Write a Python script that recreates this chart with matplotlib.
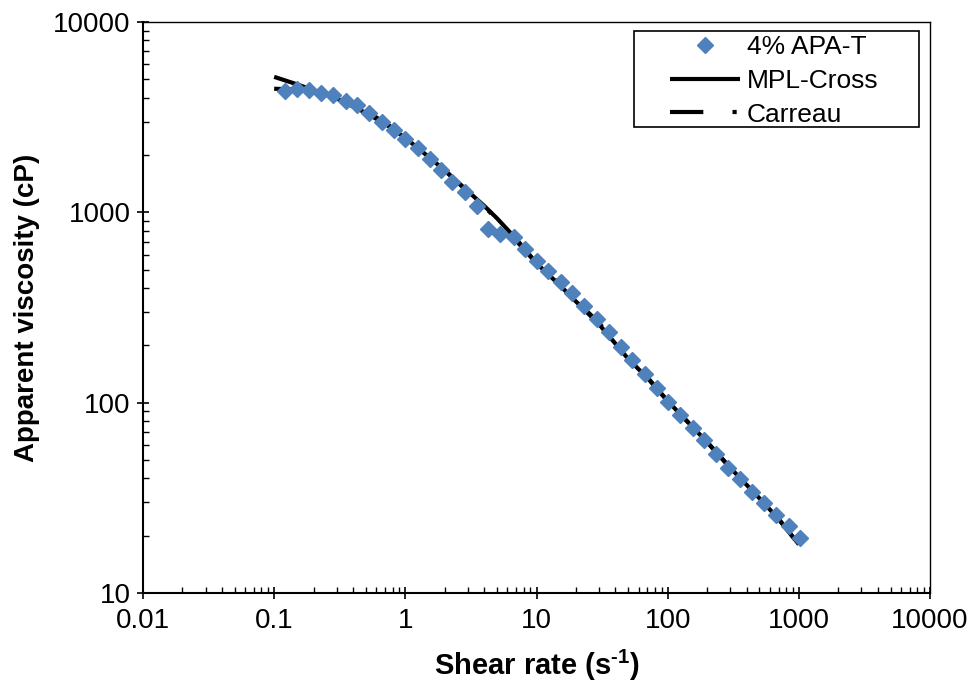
import matplotlib
matplotlib.use("Agg")
import matplotlib.pyplot as plt
from matplotlib.patches import Rectangle
from matplotlib.ticker import LogLocator, NullFormatter, FixedLocator, FixedFormatter

plt.rcParams['font.family'] = ['Liberation Sans', 'DejaVu Sans']
plt.rcParams['mathtext.fontset'] = 'custom'
plt.rcParams['mathtext.rm'] = 'Liberation Sans:bold'
plt.rcParams['mathtext.bf'] = 'Liberation Sans:bold'
plt.rcParams['mathtext.it'] = 'Liberation Sans:bold'

# Measured data: 4% APA-T
shear_rate = [0.121, 0.150, 0.185, 0.227, 0.282, 0.353, 0.430, 0.528, 0.663, 0.823,
              0.998, 1.247, 1.540, 1.867, 2.278, 2.846, 3.532, 4.284, 5.26, 6.76,
              8.16, 10.02, 12.28, 15.35, 18.71, 22.98, 28.87, 35.63, 43.75, 53.6,
              67.0, 82.3, 100.9, 123.9, 154.8, 188.7, 233.0, 289.2, 356.9, 440.6,
              543.9, 673.6, 838.9, 1017]
viscosity = [4355, 4446, 4372, 4236, 4115, 3845, 3676, 3325, 2982, 2707,
             2437, 2177, 1906, 1674, 1443, 1272, 1083, 820, 769, 742,
             641, 552, 489, 433, 377, 323, 275, 234, 197, 167,
             141, 119, 101, 85.7, 73.5, 63.3, 53.7, 45.3, 39.7, 34.0,
             29.8, 25.8, 22.4, 19.4]

# Model curves
model_rate = [0.1, 0.15, 0.2, 0.3, 0.5, 0.7, 1, 1.5, 2, 3, 4, 5, 7, 10, 15, 20, 30,
              50, 70, 100, 200, 300, 500, 700, 1000]
mpl_cross = [5150, 4700, 4380, 3960, 3330, 2920, 2460, 1960, 1660, 1290, 1080, 930, 725,
             540, 415, 340, 258, 170, 135, 102, 62, 45.5, 31.5, 24.5, 18.0]
carreau = [4460, 4420, 4360, 4040, 3400, 2960, 2480, 1980, 1660, 1280, 1070, 920, 710,
           540, 420, 345, 262, 172, 136, 102, 62, 45.5, 31.5, 24.5, 18.0]

x_ticks = [0.01, 0.1, 1, 10, 100, 1000, 10000]
x_tick_labels = ['0.01', '0.1', '1', '10', '100', '1000', '10000']
y_ticks = [10, 100, 1000, 10000]
y_tick_labels = ['10', '100', '1000', '10000']

W, H = 972, 682
fig = plt.figure(figsize=(W/100, H/100), dpi=100)
ax = fig.add_axes([143/W, 1-593/H, (930-143)/W, (593-22)/H])

ax.plot(model_rate, mpl_cross, color='black', lw=3.0, solid_capstyle='butt',
        label='MPL-Cross', zorder=2)
ax.plot(model_rate, carreau, color='black', lw=3.0, linestyle=(0, (8, 7, 1, 7)),
        label='Carreau', zorder=2)
ax.plot(shear_rate, viscosity, linestyle='none', marker='D', markersize=8,
        color='#4F81BD', markeredgecolor='#4F81BD', label='4% APA-T', zorder=3)

ax.set_xscale('log')
ax.set_yscale('log')
ax.set_xlim(0.01, 10000)
ax.set_ylim(10, 10000)

ax.xaxis.set_major_locator(FixedLocator(x_ticks))
ax.xaxis.set_major_formatter(FixedFormatter(x_tick_labels))
ax.yaxis.set_major_locator(FixedLocator(y_ticks))
ax.yaxis.set_major_formatter(FixedFormatter(y_tick_labels))
ax.xaxis.set_minor_locator(LogLocator(base=10, subs=range(2, 10), numticks=20))
ax.yaxis.set_minor_locator(LogLocator(base=10, subs=range(2, 10), numticks=20))
ax.xaxis.set_minor_formatter(NullFormatter())
ax.yaxis.set_minor_formatter(NullFormatter())

ax.tick_params(which='major', direction='inout', length=8, width=1.2, labelsize=20,
               color='black')
ax.tick_params(axis='x', which='major', pad=7)
ax.tick_params(axis='y', which='major', pad=5)
ax.tick_params(which='minor', direction='in', length=4, width=1.0)
ax.tick_params(top=False, right=False, which='both')

for side in ['left', 'bottom']:
    ax.spines[side].set_linewidth(1.5)
for side in ['top', 'right']:
    ax.spines[side].set_linewidth(1.0)
    ax.spines[side].set_color('black')

ax.set_xlabel('Shear rate (s$^{\\text{-1}}$)', fontsize=21, fontweight='bold', labelpad=10)
ax.set_ylabel('Apparent viscosity (cP)', fontsize=20, fontweight='bold', labelpad=9)

handles, labels = ax.get_legend_handles_labels()
order = [2, 0, 1]
leg = ax.legend([handles[i] for i in order], [labels[i] for i in order],
                loc='upper left', bbox_to_anchor=(670/W, 1-35/H),
                bbox_transform=fig.transFigure, fontsize=19, frameon=False,
                handlelength=2.65, handletextpad=0.27, borderpad=0.0,
                labelspacing=0.37, borderaxespad=0)
leg.set_zorder(6)
frame = Rectangle((634/W, 1-127/H), (919-634)/W, (127-31)/H,
                  transform=fig.transFigure, fill=True, facecolor='white',
                  edgecolor='black', lw=1.2, zorder=5, clip_on=False)
ax.add_artist(frame)

fig.savefig('out.png', dpi=100)
